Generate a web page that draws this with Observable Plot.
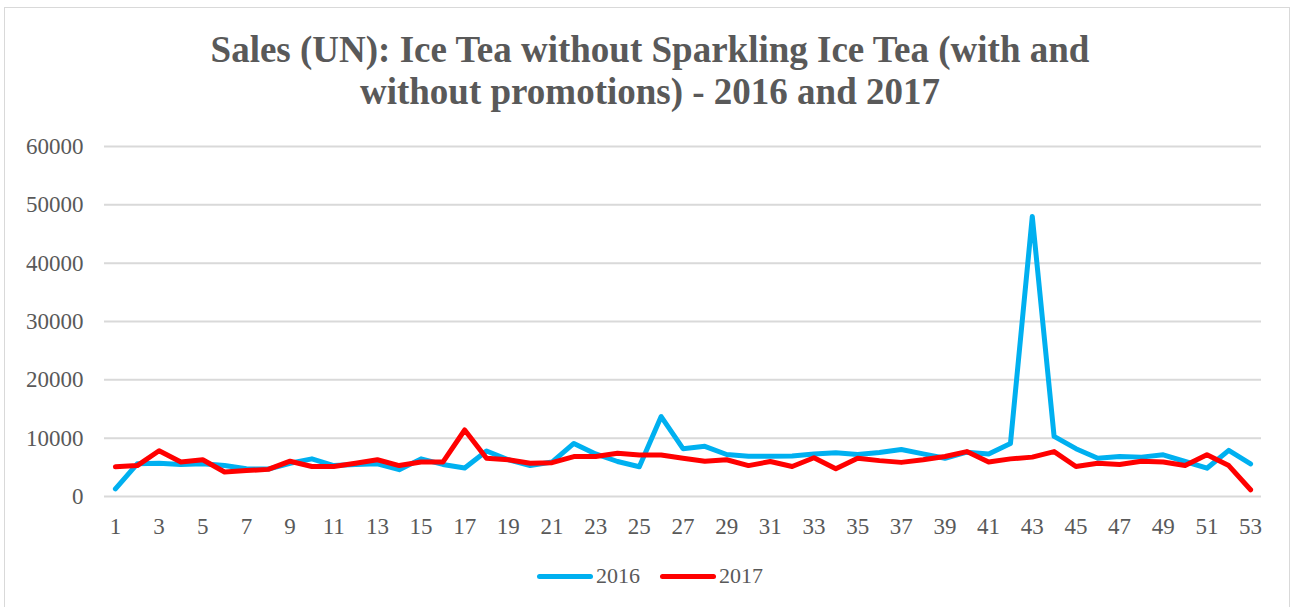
<!DOCTYPE html>
<html>
<head>
<meta charset="utf-8">
<script src="https://cdn.jsdelivr.net/npm/d3@7"></script>
<script src="https://cdn.jsdelivr.net/npm/@observablehq/plot@0.6"></script>
<style>
  html, body { margin: 0; padding: 0; background: #fff; }
  #wrap { position: relative; width: 1286px; height: 600px; margin: 7px 0 0 4px; border: 1px solid #d9d9d9; border-bottom: none; box-sizing: border-box; overflow: hidden; }
  #title { position: absolute; left: 0; top: 21px; width: 1290px; text-align: center; font-family: "Liberation Serif", "Times New Roman", serif; font-weight: bold; font-size: 37px; line-height: 42px; color: #595959; }
  #chart { position: absolute; left: -4px; top: 105px; width: 1298px; }
  #chart svg { max-width: none !important; }
  #chart svg text { font-family: "Liberation Serif", "Times New Roman", serif !important; font-size: 23px !important; fill: #595959; }
  #legend { position: absolute; left: 0; top: 555px; width: 1290px; display: flex; justify-content: center; gap: 20px; font-family: "Liberation Serif", "Times New Roman", serif; font-size: 22px; color: #595959; }
  .item { display: flex; align-items: center; gap: 3px; }
  .sw { width: 56px; height: 5px; border-radius: 3px; }
</style>
</head>
<body>
<div id="wrap">
  <div id="title">Sales (UN): Ice Tea without Sparkling Ice Tea (with and<br>without promotions) - 2016 and 2017</div>
  <div id="chart"></div>
  <div id="legend"></div>
</div>
<script>
const weeks = d3.range(1, 54);
const sales2016 = [1300, 5600, 5700, 5500, 5600, 5300, 4750, 4700, 5700, 6450,
  5300, 5500, 5600, 4600, 6450, 5500, 4900, 7800, 6300, 5300,
  5900, 9100, 7300, 6000, 5100, 13700, 8200, 8600, 7200, 6900,
  6900, 6950, 7300, 7500, 7200, 7550, 8050, 7300, 6550, 7600,
  7300, 9100, 48000, 10300, 8200, 6550, 6850, 6750, 7150, 6000,
  4850, 7900, 5600];
const sales2017 = [5100, 5300, 7850, 5900, 6300, 4200, 4450, 4650, 6050, 5150,
  5150, 5700, 6300, 5300, 5900, 5900, 11400, 6550, 6300, 5700,
  5800, 6850, 6850, 7400, 7100, 7100, 6550, 6050, 6300, 5300,
  6000, 5150, 6650, 4750, 6550, 6150, 5850, 6300, 6850, 7700,
  5900, 6450, 6750, 7700, 5150, 5700, 5500, 6050, 5900, 5300,
  7150, 5300, 1150];
const seriesNames = ["2016", "2017"];
const seriesColors = ["#00B0F0", "#FF0000"];
const xTicks = d3.range(1, 54, 2);
const yTicks = [0, 10000, 20000, 30000, 40000, 50000, 60000];

const rows = [];
weeks.forEach((w, i) => {
  rows.push({week: w, value: sales2016[i], series: seriesNames[0]});
  rows.push({week: w, value: sales2017[i], series: seriesNames[1]});
});

const chart = Plot.plot({
  width: 1298,
  height: 430,
  marginTop: 33,
  marginBottom: 47,
  marginLeft: 103,
  marginRight: 38,
  style: {background: "transparent"},
  x: {type: "linear", domain: [0.5, 53.5], label: null},
  y: {domain: [0, 60000], label: null},
  color: {domain: seriesNames, range: seriesColors},
  marks: [
    Plot.gridY(yTicks, {stroke: "#d9d9d9", strokeOpacity: 1, strokeWidth: 2}),
    Plot.axisY({ticks: yTicks, tickSize: 0, tickPadding: 21, tickFormat: d => String(d), fill: "#595959"}),
    Plot.axisX({ticks: xTicks, tickSize: 0, tickPadding: 21, tickFormat: d => String(d), fill: "#595959"}),
    Plot.line(rows, {x: "week", y: "value", z: "series", stroke: "series", strokeWidth: 5, strokeLinejoin: "round", strokeLinecap: "round"})
  ]
});
document.getElementById("chart").appendChild(chart);

const legend = document.getElementById("legend");
seriesNames.forEach((name, i) => {
  const item = document.createElement("div");
  item.className = "item";
  const sw = document.createElement("div");
  sw.className = "sw";
  sw.style.background = seriesColors[i];
  const label = document.createElement("span");
  label.textContent = name;
  item.appendChild(sw);
  item.appendChild(label);
  legend.appendChild(item);
});
</script>
</body>
</html>
